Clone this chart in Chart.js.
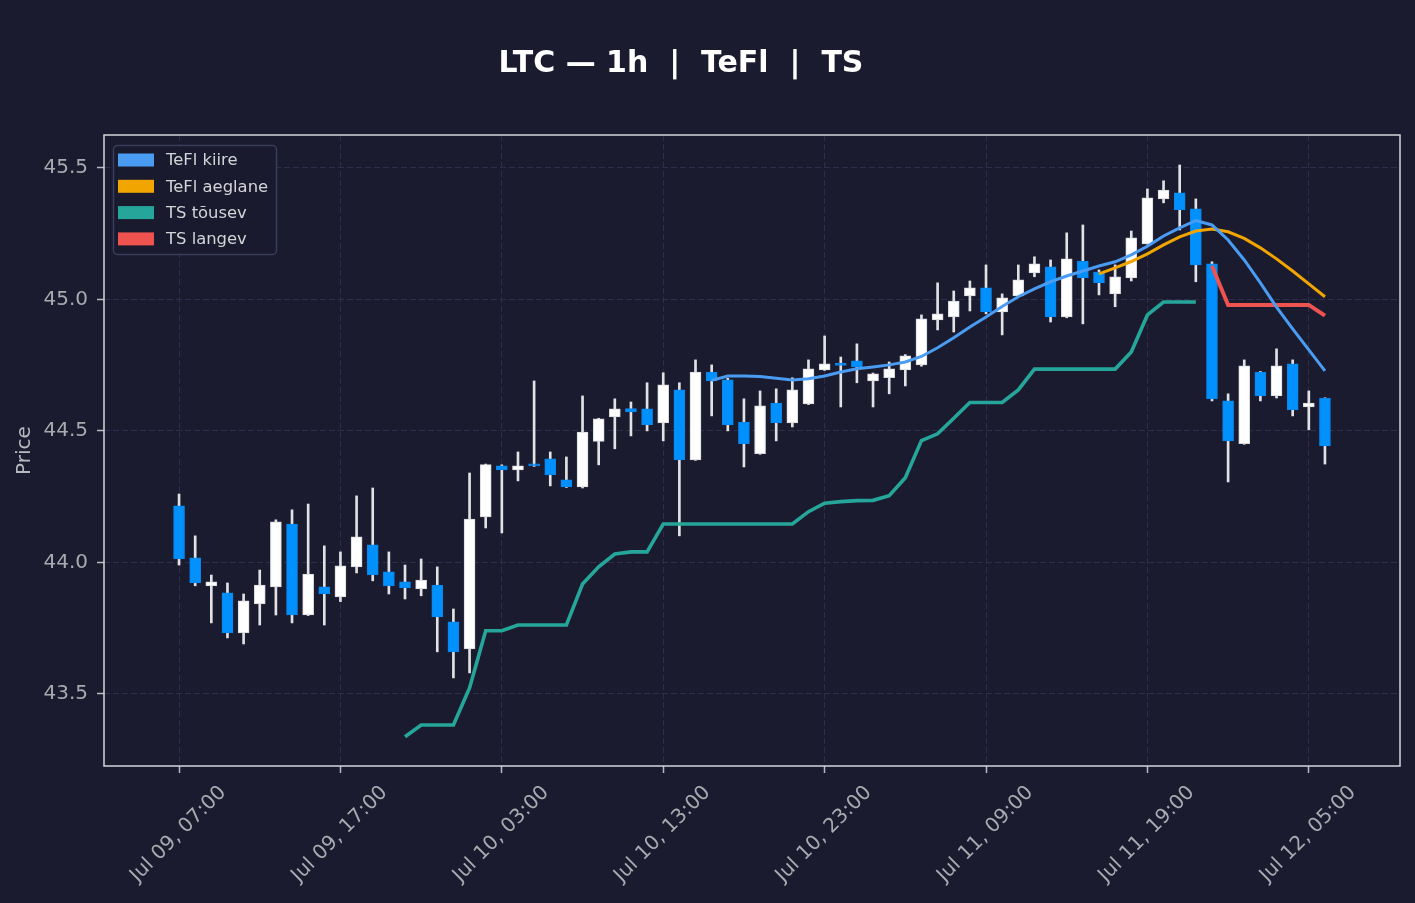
<!DOCTYPE html>
<html>
<head>
<meta charset="utf-8">
<script src="https://cdn.jsdelivr.net/npm/chart.js@4.4.1/dist/chart.umd.min.js"></script>
<style>
html,body{margin:0;padding:0;background:#1a1b2e;}
canvas{display:block;}
</style>
</head>
<body>
<canvas id="c" width="1415" height="903"></canvas>
<script>
// ---------- DATA ----------
const titleText = 'LTC — 1h  |  TeFl  |  TS';
const yTitle = 'Price';
const tickIndex  = [0, 10, 20, 30, 40, 50, 60, 70];
const tickLabels = ['Jul 09, 07:00','Jul 09, 17:00','Jul 10, 03:00','Jul 10, 13:00',
                    'Jul 10, 23:00','Jul 11, 09:00','Jul 11, 19:00','Jul 12, 05:00'];
const yTicks = [43.5, 44.0, 44.5, 45.0, 45.5];

const openP = [44.215,44.017,43.911,43.884,43.732,43.842,43.907,44.146,43.800,43.907,
               43.869,43.983,44.067,43.964,43.926,43.899,43.914,43.774,43.671,44.173,
               44.367,44.352,44.372,44.394,44.314,44.287,44.460,44.553,44.585,44.584,
               44.530,44.656,44.390,44.724,44.694,44.534,44.413,44.606,44.530,44.603,
               44.732,44.753,44.766,44.690,44.702,44.732,44.751,44.922,44.933,45.013,
               45.044,44.952,45.013,45.101,45.124,44.933,45.146,45.104,45.021,45.082,
               45.211,45.382,45.405,45.344,45.135,44.614,44.451,44.724,44.633,44.755,
               44.591,44.625];
const highP = [44.260,44.101,43.952,43.922,43.880,43.971,44.162,44.200,44.222,44.063,
               44.040,44.253,44.283,44.040,43.990,44.013,43.983,43.823,44.340,44.374,
               44.371,44.420,44.690,44.420,44.401,44.633,44.548,44.622,44.610,44.683,
               44.721,44.683,44.770,44.751,44.700,44.622,44.652,44.660,44.702,44.770,
               44.861,44.781,44.831,44.720,44.762,44.790,44.941,45.063,45.032,45.070,
               45.131,45.021,45.131,45.162,45.150,45.253,45.283,45.112,45.131,45.260,
               45.420,45.451,45.511,45.382,45.143,44.641,44.770,44.726,44.812,44.770,
               44.652,44.626];
const lowP  = [43.990,43.911,43.770,43.713,43.690,43.762,43.800,43.770,43.798,43.762,
               43.851,43.960,43.930,43.880,43.861,43.873,43.660,43.561,43.580,44.131,
               44.112,44.310,44.365,44.291,44.285,44.283,44.371,44.432,44.481,44.500,
               44.462,44.101,44.388,44.557,44.500,44.363,44.411,44.462,44.515,44.600,
               44.730,44.591,44.683,44.591,44.641,44.671,44.746,44.884,44.876,44.956,
               44.945,44.865,45.010,45.086,44.914,44.930,44.907,45.017,44.972,45.070,
               45.210,45.367,45.264,45.067,44.614,44.306,44.449,44.614,44.625,44.557,
               44.504,44.374];
const closeP = [44.013,43.922,43.926,43.732,43.854,43.914,44.154,43.800,43.956,43.880,
               43.987,44.097,43.952,43.911,43.903,43.933,43.793,43.660,44.165,44.372,
               44.352,44.367,44.367,44.333,44.287,44.496,44.546,44.584,44.572,44.523,
               44.675,44.390,44.724,44.690,44.523,44.451,44.595,44.530,44.656,44.736,
               44.755,44.749,44.743,44.717,44.736,44.785,44.926,44.945,44.994,45.044,
               44.952,45.006,45.074,45.135,44.933,45.154,45.082,45.063,45.086,45.234,
               45.386,45.416,45.340,45.131,44.622,44.462,44.747,44.633,44.747,44.580,
               44.606,44.443];

const _ = null;
const teflFast = [_,_,_,_,_,_,_,_,_,_, _,_,_,_,_,_,_,_,_,_, _,_,_,_,_,_,_,_,_,_, _,_,_,
  44.692,44.709,44.709,44.707,44.700,44.694,44.698,
  44.709,44.724,44.736,44.743,44.751,44.762,44.783,44.816,44.854,44.895,
  44.933,44.973,45.010,45.040,45.067,45.089,45.108,45.127,45.143,45.169,
  45.202,45.241,45.272,45.300,45.283,45.226,45.150,45.063,44.971,44.888,
  44.808,44.728];
const teflSlow = [_,_,_,_,_,_,_,_,_,_, _,_,_,_,_,_,_,_,_,_, _,_,_,_,_,_,_,_,_,_,
  _,_,_,_,_,_,_,_,_,_, _,_,_,_,_,_,_,_,_,_, _,_,_,_,_,_,_,
  45.097,45.120,45.144,45.173,45.207,45.238,45.260,45.268,45.257,45.232,
  45.196,45.154,45.108,45.059,45.010];
const tsUp = [_,_,_,_,_,_,_,_,_,_, _,_,_,_,
  43.337,43.382,43.382,43.382,43.523,43.740,
  43.740,43.762,43.762,43.762,43.762,43.918,43.983,44.032,44.040,44.040,
  44.146,44.146,44.146,44.146,44.146,44.146,44.146,44.146,44.146,44.193,
  44.225,44.231,44.235,44.236,44.254,44.322,44.463,44.489,44.548,44.608,
  44.608,44.608,44.656,44.735,44.735,44.735,44.735,44.735,44.735,44.800,
  44.941,44.990,44.990,44.990,_,_,_,_,_,_,_,_];
const tsDown = [_,_,_,_,_,_,_,_,_,_, _,_,_,_,_,_,_,_,_,_, _,_,_,_,_,_,_,_,_,_,
  _,_,_,_,_,_,_,_,_,_, _,_,_,_,_,_,_,_,_,_, _,_,_,_,_,_,_,_,_,_, _,_,_,_,
  45.127,44.979,44.979,44.979,44.979,44.979,44.979,44.938];

// ---------- STYLE ----------
const BG = '#1a1b2e';
const GRID = '#2c2e4c';
const UP_COL = '#ffffff';
const DOWN_COL = '#0091ff';
const WICK_COL = '#e2e2e6';
const C_FAST = '#4a9cf2';
const C_SLOW = '#f0a500';
const C_UP = '#26a69a';
const C_DOWN = '#ef5350';
const FONT = "'DejaVu Sans', sans-serif";

const idx = openP.map((v, i) => i);
const isDown = idx.map(i => closeP[i] < openP[i]);
const wickData = idx.map(i => ({x: i, y: [lowP[i], highP[i]]}));
const bodyData = idx.map(i => ({x: i, y: [openP[i], closeP[i]]}));
const toPts = arr => arr.map((v, i) => v == null ? null : {x: i, y: v}).filter(p => p);

const bgPlugin = {
  id: 'bg',
  beforeDraw(chart) {
    const c = chart.ctx;
    c.save(); c.fillStyle = BG; c.fillRect(0, 0, chart.width, chart.height); c.restore();
  }
};
const framePlugin = {
  id: 'frame',
  afterDraw(chart) {
    const {ctx, chartArea: a} = chart;
    ctx.save();
    ctx.strokeStyle = '#d6d6de'; ctx.lineWidth = 1.5;
    ctx.strokeRect(a.left, a.top, a.right - a.left, a.bottom - a.top);
    // title
    ctx.fillStyle = '#ffffff';
    ctx.font = "bold 30px " + FONT;
    ctx.textAlign = 'center'; ctx.textBaseline = 'alphabetic';
    ctx.fillText(titleText, 681, 72);
    // legend
    const items = chart.data.datasets.filter(d => d.type === 'line');
    const bx = a.left + 9, by = a.top + 10, bw = 163, bh = 109;
    ctx.beginPath();
    ctx.roundRect(bx + 0.5, by + 0.5, bw, bh, 4);
    ctx.fillStyle = 'rgba(26,27,46,0.9)'; ctx.fill();
    ctx.strokeStyle = '#3b3d5e'; ctx.lineWidth = 1.5; ctx.stroke();
    ctx.font = "16.4px " + FONT;
    ctx.textAlign = 'left'; ctx.textBaseline = 'middle';
    items.forEach((d, k) => {
      const yy = by + 15 + k * 26.3;
      ctx.fillStyle = d.borderColor;
      ctx.fillRect(bx + 5, yy - 6.5, 36, 13);
      ctx.fillStyle = '#d4d4d8';
      ctx.fillText(d.label, bx + 53, yy + 1);
    });
    ctx.restore();
  }
};

new Chart(document.getElementById('c'), {
  type: 'bar',
  data: {
    datasets: [
      {type: 'line', label: 'TeFl kiire', data: toPts(teflFast), borderColor: C_FAST, borderWidth: 3, pointRadius: 0, tension: 0, order: 0},
      {type: 'line', label: 'TeFl aeglane', data: toPts(teflSlow), borderColor: C_SLOW, borderWidth: 3, pointRadius: 0, tension: 0, order: 0},
      {type: 'line', label: 'TS tõusev', data: toPts(tsUp), borderColor: C_UP, borderWidth: 3.6, pointRadius: 0, tension: 0, order: 0},
      {type: 'line', label: 'TS langev', data: toPts(tsDown), borderColor: C_DOWN, borderWidth: 4, pointRadius: 0, tension: 0, order: 0},
      {type: 'bar', label: 'body', data: bodyData, grouped: false, barThickness: 11, minBarLength: 2,
       backgroundColor: isDown.map(d => d ? DOWN_COL : UP_COL),
       borderColor: isDown.map(d => d ? '#0a86ec' : '#d8d8dc'), borderWidth: 1, borderSkipped: false, order: 1},
      {type: 'bar', label: 'wick', data: wickData, grouped: false, barThickness: 2,
       backgroundColor: WICK_COL, borderWidth: 0, order: 2}
    ]
  },
  options: {
    responsive: false,
    animation: false,
    events: [],
    layout: {padding: {top: 135, right: 15, left: 0, bottom: 0}},
    plugins: {legend: {display: false}, title: {display: false}, tooltip: {enabled: false}},
    scales: {
      x: {
        type: 'linear', min: -4.65, max: 75.65, offset: false,
        grid: {offset: false, color: GRID, lineWidth: 1, tickColor: '#b8b8c0', tickLength: 7, tickWidth: 1.5},
        border: {display: false, dash: [6, 3]},
        afterBuildTicks: (axis) => { axis.ticks = tickIndex.map(v => ({value: v})); },
        afterFit: (s) => { s.height = 137; },
        ticks: {
          autoSkip: false, maxRotation: 45, minRotation: 45, labelOffset: 44, padding: 8,
          color: '#a9a9b0', font: {family: FONT, size: 20},
          callback: (v) => { const k = tickIndex.indexOf(v); return k >= 0 ? tickLabels[k] : ''; }
        }
      },
      y: {
        type: 'linear', min: 43.226, max: 45.625, beginAtZero: false,
        grid: {color: GRID, lineWidth: 1, tickColor: '#b8b8c0', tickLength: 7, tickWidth: 1.5},
        border: {display: false, dash: [6, 3]},
        afterBuildTicks: (axis) => { axis.ticks = yTicks.map(v => ({value: v})); },
        afterFit: (s) => { s.width = 104; },
        title: {display: true, text: yTitle, color: '#b8b8c0', font: {family: FONT, size: 20}, padding: {top: 13, bottom: 0}},
        ticks: {color: '#a9a9b0', font: {family: FONT, size: 20}, padding: 9,
          callback: (v) => Number(v).toFixed(1)}
      }
    }
  },
  plugins: [bgPlugin, framePlugin]
});
</script>
</body>
</html>
